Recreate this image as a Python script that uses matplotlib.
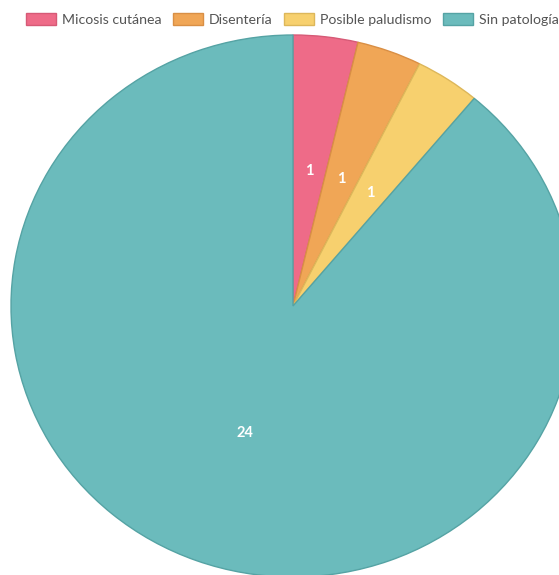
import matplotlib
matplotlib.use("Agg")
import matplotlib.pyplot as plt

categories = ["Micosis cutánea", "Disentería", "Posible paludismo", "Sin patología"]
values = [1, 1, 1, 24]
colors = ["#EE6B88", "#F0A656", "#F7D06E", "#6BBBBC"]
edge_colors = ["#D65A76", "#D98F45", "#DDB75A", "#55A3A4"]

plt.rcParams['font.family'] = ['Lato', 'DejaVu Sans']

W, H = 559, 575
fig = plt.figure(figsize=(W / 100, H / 100), dpi=100)
ax = fig.add_axes([0, 0, 1, 1])

cx, cy = 293, 306
rx, ry = 282, 271

wedges, texts = ax.pie(values, colors=colors, startangle=90, counterclock=False,
                       labels=[str(v) for v in values], labeldistance=0.5,
                       radius=1.0,
                       wedgeprops=dict(linewidth=1.0),
                       textprops=dict(color="white", fontsize=10.5, fontweight="bold",
                                      ha="center", va="center"))
for w, ec in zip(wedges, edge_colors):
    w.set_edgecolor(ec)

ax.set_aspect('auto')
ax.set_xlim(-cx / rx, (W - cx) / rx)
ax.set_ylim(-(H - cy) / ry, cy / ry)
ax.axis('off')

leg = ax.legend(wedges, categories, ncol=4, loc='upper left',
                bbox_to_anchor=(26 / W, 1 - 13 / H), bbox_transform=fig.transFigure,
                frameon=False, fontsize=10.2, handlelength=2.1, handleheight=0.97,
                handletextpad=0.42, columnspacing=0.83, borderpad=0, borderaxespad=0)
for t in leg.get_texts():
    t.set_color("#555555")

fig.savefig("out.png", dpi=100)
